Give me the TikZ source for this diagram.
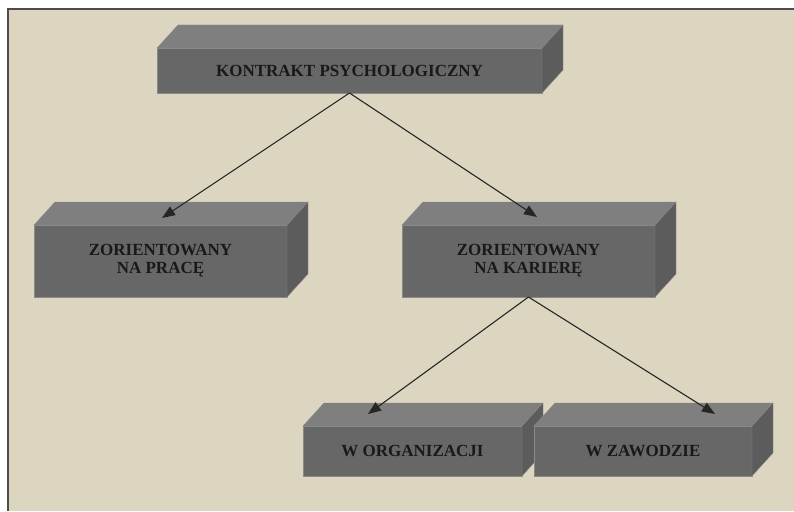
\documentclass[tikz,border=0pt]{standalone}
\usepackage{fontspec}
\setmainfont{Liberation Serif}
\usetikzlibrary{positioning,arrows.meta}
\definecolor{tlo}{HTML}{DCD6C1}
\definecolor{przod}{HTML}{676767}
\definecolor{gora}{HTML}{7F7F7F}
\definecolor{bok}{HTML}{5C5C5C}
\definecolor{krawedz}{HTML}{8A8A86}

\begin{document}
\begin{tikzpicture}[x=1pt,y=-1pt,
    blok/.style={rectangle,fill=przod,draw=krawedz,line width=.4pt,outer sep=0pt,inner sep=0pt,align=center,
                 font=\fontsize{17}{18}\selectfont\bfseries,text=black!90},
    sciana/.style={draw=krawedz,line width=.4pt},
    strz/.style={-{Triangle[length=13pt,width=10pt]},line width=1.1pt,black!85}]
      \useasboundingbox (0,0) rectangle (794,511);
      \fill[tlo] (7,8) rectangle (794,511);
      \draw[black!70,line width=2pt] (8,511) -- (8,9) -- (794,9);

      % blok = przednia sciana z tekstem + gorna i boczna sciana
      \foreach \b/\x/\y/\w/\h/\txt in {kontrakt/349.5/70.5/385/45/{KONTRAKT PSYCHOLOGICZNY},
                                        praca/160.5/261/253/72/{ZORIENTOWANY\\ NA PRACĘ},
                                        kariera/528.5/261/253/72/{ZORIENTOWANY\\ NA KARIERĘ},
                                        organizacja/412.5/451/219/50/{W ORGANIZACJI},
                                        zawod/643/451/218/50/{W ZAWODZIE}}{
        \node[blok,minimum width=\w pt,minimum height=\h pt](\b) at (\x,\y) {\txt};
        \filldraw[sciana,fill=gora] (\b.north west) -- ++(21,-23) -- ([shift={(21,-23)}]\b.north east) -- (\b.north east) -- cycle;
        \filldraw[sciana,fill=bok]  (\b.north east) -- ++(21,-23) -- ([shift={(21,-23)}]\b.south east) -- (\b.south east) -- cycle;
      }

      \path[strz] (kontrakt.south) edge ([shift={(1.5,-7)}]praca.north)
                  (kontrakt.south) edge ([shift={(8.5,-8)}]kariera.north)
                  (kariera.south)  edge ([shift={(-44.5,-12)}]organizacja.north)
                  (kariera.south)  edge ([shift={(72,-12)}]zawod.north);

\end{tikzpicture}
\end{document}
